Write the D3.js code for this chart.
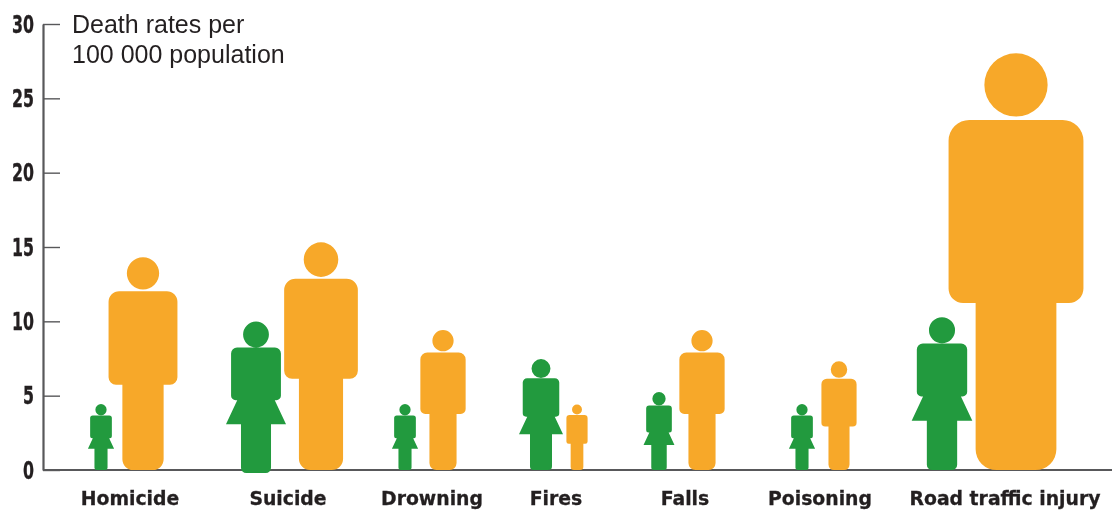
<!DOCTYPE html>
<html><head><meta charset="utf-8">
<script src="https://cdn.jsdelivr.net/npm/d3@7"></script>
<style>
html,body{margin:0;padding:0;background:#fff;overflow:hidden}
svg{display:block;filter:blur(0.45px)}
</style></head><body>
<svg id="c" width="1112" height="513"></svg>
<script>
const categories = ["Homicide","Suicide","Drowning","Fires","Falls","Poisoning","Road traffic injury"];
const femaleRates = [4.4,9.9,4.4,7.4,5.2,4.4,10.2];
const maleRates = [14.3,15.3,9.4,4.4,9.4,7.3,28.0];
const femaleBase = [0,-0.2,0,0,0,0,0];
const yTicks = [0,5,10,15,20,25,30];
const titleLines = ["Death rates per","100 000 population"];

const svg = d3.select("#c");
const W = 1112, GREEN = "#229a3e", ORANGE = "#f7a829", INK = "#231f20", AXIS = "#58585a";

const y = d3.scaleLinear().domain([0,30]).range([470,24]);
const xLabel = d3.scaleOrdinal(categories,[130,288,432,556,685,820,1005]);
const xFemale = d3.scaleOrdinal(categories,[101,256,405,541,659,802,942]);
const xMale = d3.scaleOrdinal(categories,[143,321,443,577,702,839,1016]);

// Unit-height pictograms, origin at top centre of the figure
function malePath(){
  const p = d3.path();
  p.moveTo(.076,.075); p.arc(0,.075,.076,0,Math.PI*2); p.closePath();
  const hw=.162, lw=.097;
  p.moveTo(0,.159);
  p.arcTo(hw,.159,hw,.3,.05);
  p.arcTo(hw,.599,lw,.599,.035);
  p.lineTo(lw,.599);
  p.arcTo(lw,1,0,1,.05);
  p.arcTo(-lw,1,-lw,.8,.05);
  p.lineTo(-lw,.599);
  p.arcTo(-hw,.599,-hw,.4,.035);
  p.arcTo(-hw,.159,0,.159,.05);
  p.closePath();
  return p.toString();
}
function femalePath(){
  const p = d3.path();
  p.moveTo(.086,.078); p.arc(0,.078,.086,0,Math.PI*2); p.closePath();
  const hw=.166, lw=.1;
  p.moveTo(0,.165);
  p.arcTo(hw,.165,hw,.3,.04);
  p.arcTo(hw,.515,.12,.515,.03);
  p.lineTo(.125,.515);
  p.lineTo(.2,.675);
  p.lineTo(lw,.675);
  p.arcTo(lw,1,0,1,.035);
  p.arcTo(-lw,1,-lw,.8,.035);
  p.lineTo(-lw,.675);
  p.lineTo(-.2,.675);
  p.lineTo(-.125,.515);
  p.arcTo(-hw,.515,-hw,.4,.03);
  p.arcTo(-hw,.165,0,.165,.04);
  p.closePath();
  return p.toString();
}

// Axis
const axis = d3.axisLeft(y).tickValues(yTicks).tickSizeInner(-17).tickSizeOuter(0).tickPadding(9);
const gAxis = svg.append("g").attr("transform","translate(43,0)").call(axis);
gAxis.select(".domain").attr("stroke",AXIS).attr("stroke-width",2.2);
gAxis.selectAll(".tick line").attr("stroke",AXIS).attr("stroke-width",1.4);
gAxis.selectAll(".tick text")
  .attr("font-family","'DejaVu Sans'")
  .attr("font-weight","bold").attr("font-size",25).attr("fill",INK)
  .attr("stroke",INK).attr("stroke-width",.4)
  .attr("textLength",d=>String(d).length*11).attr("lengthAdjust","spacingAndGlyphs");
svg.append("line").attr("x1",43).attr("x2",W).attr("y1",y(0)).attr("y2",y(0))
  .attr("stroke",AXIS).attr("stroke-width",2.2);

// Marks
const rows = categories.map((c,i)=>({c,f:femaleRates[i],m:maleRates[i],b:femaleBase[i]}));
const fd = femalePath(), md = malePath();
svg.append("g").selectAll("path").data(rows).join("path")
  .attr("d",fd).attr("fill",GREEN)
  .attr("transform",d=>`translate(${xFemale(d.c)},${y(d.f)}) scale(${y(d.b)-y(d.f)})`);
svg.append("g").selectAll("path").data(rows).join("path")
  .attr("d",md).attr("fill",ORANGE)
  .attr("transform",d=>`translate(${xMale(d.c)},${y(d.m)}) scale(${y(0)-y(d.m)})`);

// Category labels
svg.append("g").selectAll("text").data(categories).join("text")
  .attr("x",d=>xLabel(d)).attr("y",505).attr("text-anchor","middle")
  .attr("font-family","'DejaVu Sans'").attr("font-weight","bold").attr("font-size",19)
  .attr("fill",INK).attr("stroke",INK).attr("stroke-width",.3)
  .text(d=>d)
  .each(function(){ const w=this.getComputedTextLength(); d3.select(this).attr("textLength",w*0.99).attr("lengthAdjust","spacingAndGlyphs"); });

// Title
svg.append("g").selectAll("text").data(titleLines).join("text")
  .attr("x",72).attr("y",(d,i)=>33+i*30)
  .attr("font-family","'Liberation Sans'").attr("font-size",25).attr("fill",INK)
  .text(d=>d);
</script>
</body></html>
